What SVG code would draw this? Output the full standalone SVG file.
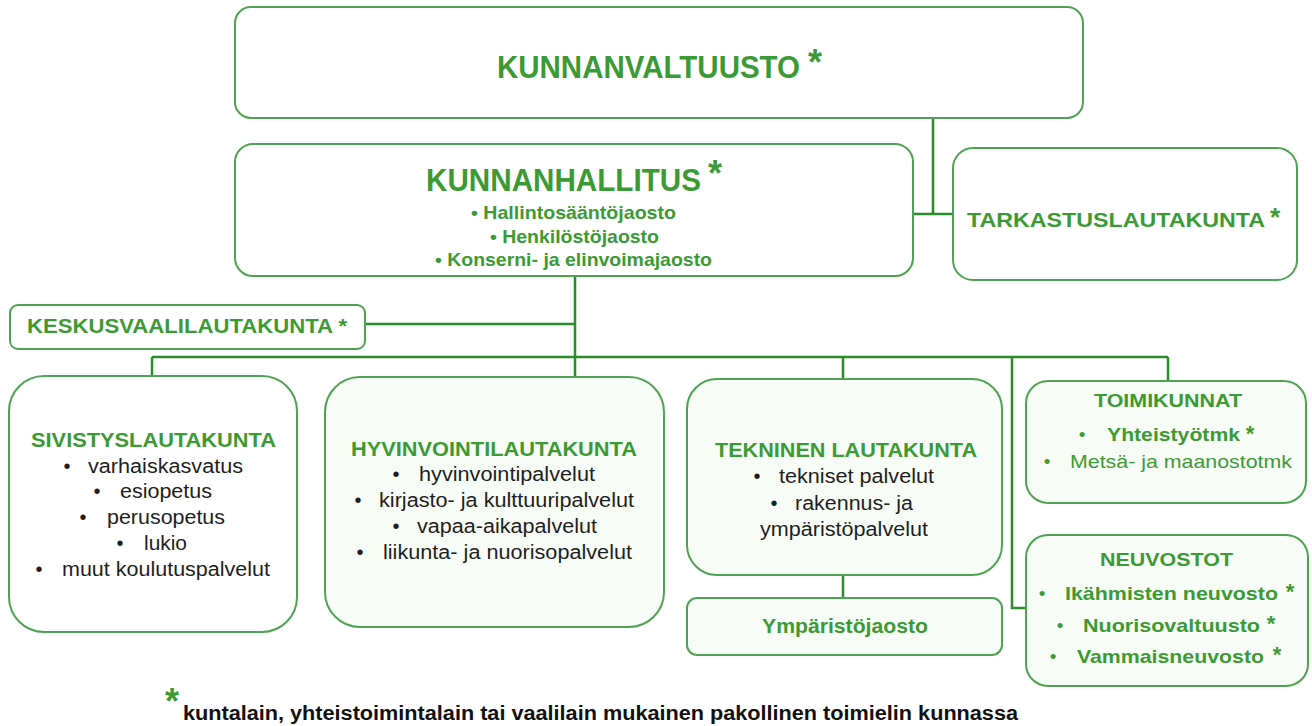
<svg xmlns="http://www.w3.org/2000/svg" width="1312" height="726" viewBox="0 0 1312 726">
<style>
.box{fill:#ffffff;stroke:#4ea352;stroke-width:2}
.tint{fill:#f8fcf6}
.ln{fill:none;stroke:#2a8c2a;stroke-width:2.5}
.g{fill:#3c9a35;font-family:"Liberation Sans",Arial,sans-serif;font-weight:bold}
.gr{fill:#3c9a35;font-family:"Liberation Sans",Arial,sans-serif}
.k{fill:#1e1e1e;font-family:"Liberation Sans",Arial,sans-serif;font-size:20px}
.kb{fill:#111;font-family:"Liberation Sans",Arial,sans-serif;font-weight:bold}
.b{text-anchor:middle}
</style>
<g id="connectors">
<path class="ln" d="M933 118 V214 M913 214 H953"/>
<path class="ln" d="M575 276 V377 M365 324 H575"/>
<path class="ln" d="M152 357 H1168 M152 357 V376 M843 357 V379 M1168 357 V381"/>
<path class="ln" d="M1012 357 V608 H1026"/>
<path class="ln" d="M843 575 V598"/>
</g>
<g id="kunnanvaltuusto">
<rect class="box" x="235" y="7" width="848" height="111" rx="16"/>
<text class="g" x="497" y="78" font-size="31" textLength="303" lengthAdjust="spacingAndGlyphs">KUNNANVALTUUSTO</text>
<text class="g b" x="815" y="75" font-size="36">*</text>
</g>
<g id="kunnanhallitus">
<rect class="box" x="235" y="144" width="678" height="132" rx="18"/>
<text class="g" x="426" y="191" font-size="31" textLength="275" lengthAdjust="spacingAndGlyphs">KUNNANHALLITUS</text>
<text class="g b" x="715" y="186" font-size="36">*</text>
<text class="g" x="471" y="219" font-size="19" textLength="205" lengthAdjust="spacingAndGlyphs">• Hallintosääntöjaosto</text>
<text class="g" x="490" y="243" font-size="19" textLength="169" lengthAdjust="spacingAndGlyphs">• Henkilöstöjaosto</text>
<text class="g" x="435" y="266" font-size="19" textLength="277" lengthAdjust="spacingAndGlyphs">• Konserni- ja elinvoimajaosto</text>
</g>
<g id="tarkastuslautakunta">
<rect class="box" x="953" y="148" width="344" height="132" rx="20"/>
<text class="g" x="967" y="227" font-size="20" textLength="298" lengthAdjust="spacingAndGlyphs">TARKASTUSLAUTAKUNTA</text>
<text class="g b" x="1275" y="226" font-size="26">*</text>
</g>
<g id="keskusvaalilautakunta">
<rect class="box" x="10" y="305" width="355" height="44" rx="8"/>
<text class="g" x="27" y="333" font-size="20" textLength="320" lengthAdjust="spacingAndGlyphs">KESKUSVAALILAUTAKUNTA *</text>
</g>
<g id="sivistyslautakunta">
<rect class="box" x="9" y="376" width="288" height="256" rx="35"/>
<text class="g" x="31" y="447" font-size="20" textLength="245" lengthAdjust="spacingAndGlyphs">SIVISTYSLAUTAKUNTA</text>
<text class="k b" x="67" y="473">•</text><text class="k" x="88" y="473" textLength="155" lengthAdjust="spacingAndGlyphs">varhaiskasvatus</text>
<text class="k b" x="97" y="498">•</text><text class="k" x="120" y="498" textLength="92" lengthAdjust="spacingAndGlyphs">esiopetus</text>
<text class="k b" x="83" y="524">•</text><text class="k" x="107" y="524" textLength="118" lengthAdjust="spacingAndGlyphs">perusopetus</text>
<text class="k b" x="120" y="550">•</text><text class="k" x="144" y="550" textLength="43" lengthAdjust="spacingAndGlyphs">lukio</text>
<text class="k b" x="39" y="576">•</text><text class="k" x="62" y="576" textLength="208" lengthAdjust="spacingAndGlyphs">muut koulutuspalvelut</text>
</g>
<g id="hyvinvointilautakunta">
<rect class="box tint" x="325" y="377" width="339" height="250" rx="35"/>
<text class="g" x="351" y="456" font-size="20" textLength="286" lengthAdjust="spacingAndGlyphs">HYVINVOINTILAUTAKUNTA</text>
<text class="k b" x="396" y="481">•</text><text class="k" x="419" y="481" textLength="176" lengthAdjust="spacingAndGlyphs">hyvinvointipalvelut</text>
<text class="k b" x="358" y="507">•</text><text class="k" x="379" y="507" textLength="255" lengthAdjust="spacingAndGlyphs">kirjasto- ja kulttuuripalvelut</text>
<text class="k b" x="396" y="533">•</text><text class="k" x="417" y="533" textLength="180" lengthAdjust="spacingAndGlyphs">vapaa-aikapalvelut</text>
<text class="k b" x="360" y="559">•</text><text class="k" x="383" y="559" textLength="249" lengthAdjust="spacingAndGlyphs">liikunta- ja nuorisopalvelut</text>
</g>
<g id="tekninen-lautakunta">
<rect class="box tint" x="687" y="379" width="315" height="196" rx="30"/>
<text class="g" x="715" y="457" font-size="20" textLength="262" lengthAdjust="spacingAndGlyphs">TEKNINEN LAUTAKUNTA</text>
<text class="k b" x="757" y="483">•</text><text class="k" x="779" y="483" textLength="155" lengthAdjust="spacingAndGlyphs">tekniset palvelut</text>
<text class="k b" x="774" y="510">•</text><text class="k" x="795" y="510" textLength="118" lengthAdjust="spacingAndGlyphs">rakennus- ja</text>
<text class="k" x="760" y="536" textLength="168" lengthAdjust="spacingAndGlyphs">ympäristöpalvelut</text>
</g>
<g id="ymparistojaosto">
<rect class="box tint" x="687" y="598" width="315" height="57" rx="10"/>
<text class="g" x="762" y="633" font-size="20" textLength="166" lengthAdjust="spacingAndGlyphs">Ympäristöjaosto</text>
</g>
<g id="toimikunnat">
<rect class="box tint" x="1026" y="381" width="280" height="122" rx="22"/>
<text class="g" x="1094" y="407" font-size="19" textLength="148" lengthAdjust="spacingAndGlyphs">TOIMIKUNNAT</text>
<text class="gr b" x="1082" y="441" font-size="19">•</text>
<text class="g" x="1107" y="441" font-size="19" textLength="133" lengthAdjust="spacingAndGlyphs">Yhteistyötmk</text>
<text class="g b" x="1250" y="441" font-size="22">*</text>
<text class="gr b" x="1047" y="468" font-size="19">•</text>
<text class="gr" x="1070" y="468" font-size="19" textLength="222" lengthAdjust="spacingAndGlyphs">Metsä- ja maanostotmk</text>
</g>
<g id="neuvostot">
<rect class="box tint" x="1026" y="535" width="282" height="151" rx="22"/>
<text class="g" x="1100" y="566" font-size="19" textLength="133" lengthAdjust="spacingAndGlyphs">NEUVOSTOT</text>
<text class="gr b" x="1042" y="600" font-size="19">•</text>
<text class="g" x="1065" y="600" font-size="19" textLength="213" lengthAdjust="spacingAndGlyphs">Ikähmisten neuvosto</text>
<text class="g b" x="1290" y="599" font-size="22">*</text>
<text class="gr b" x="1060" y="632" font-size="19">•</text>
<text class="g" x="1083" y="632" font-size="19" textLength="177" lengthAdjust="spacingAndGlyphs">Nuorisovaltuusto</text>
<text class="g b" x="1271" y="631" font-size="22">*</text>
<text class="gr b" x="1053" y="663" font-size="19">•</text>
<text class="g" x="1077" y="663" font-size="19" textLength="187" lengthAdjust="spacingAndGlyphs">Vammaisneuvosto</text>
<text class="g b" x="1277" y="662" font-size="22">*</text>
</g>
<g id="footer">
<text class="g b" x="172" y="714" font-size="36">*</text>
<text class="kb" x="183" y="720" font-size="20" textLength="835" lengthAdjust="spacingAndGlyphs">kuntalain, yhteistoimintalain tai vaalilain mukainen pakollinen toimielin kunnassa</text>
</g>
</svg>
